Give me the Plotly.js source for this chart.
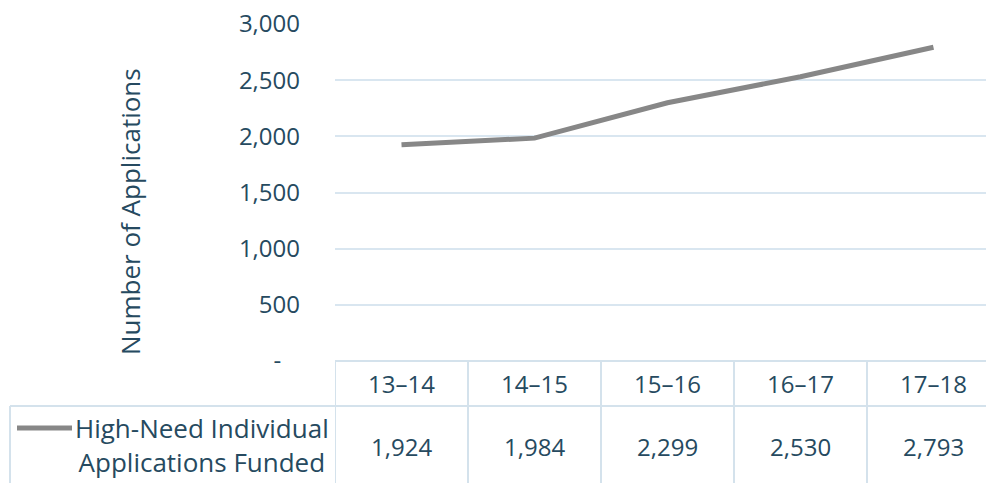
<!DOCTYPE html>
<html>
<head>
<meta charset="utf-8">
<script src="https://cdn.plot.ly/plotly-3.0.1.min.js"></script>
<style>html,body{margin:0;padding:0;background:#fff;}#chart{width:986px;height:483px;}</style>
</head>
<body>
<div id="chart"></div>
<script>
// ---- data ----
const categories = ['13–14', '14–15', '15–16', '16–17', '17–18'];
const seriesName = 'High-Need Individual<br>Applications Funded';
const applicationsFunded = [1924, 1984, 2299, 2530, 2793];
const yTickValues = [0, 500, 1000, 1500, 2000, 2500, 3000];
const yTickLabels = ['-\u00a0\u00a0\u00a0', '500', '1,000', '1,500', '2,000', '2,500', '3,000'];
const yTitle = 'Number of Applications';

// ---- styling ----
const textColor = '#264a60';
const gridColor = '#d9e6f0';
const tableColor = '#d4e2ec';
const lineColor = '#878787';
const fontFamily = '"Open Sans", "Noto Sans", sans-serif';

const W = 986, H = 483;
const mL = 335, mR = 0, mT = 24, mB = 122;
const plotW = W - mL - mR, plotH = H - mT - mB;
const px2x = p => (p - mL) / plotW;
const py2y = p => (H - mB - p) / plotH;

const fmt = v => v.toLocaleString('en-US');

const trace = {
  type: 'scatter',
  mode: 'lines',
  x: categories.map((c, i) => i),
  y: applicationsFunded,
  name: seriesName,
  line: {color: lineColor, width: 5},
  hoverinfo: 'skip'
};

const shapes = [];
const annotations = [];
const tableBottom = py2y(H + 5);
const rowSplit = py2y(406);

// table horizontal lines
shapes.push({type: 'line', xref: 'paper', yref: 'paper', x0: 0, x1: 1, y0: 0, y1: 0,
  line: {color: tableColor, width: 2}});
shapes.push({type: 'line', xref: 'paper', yref: 'paper', x0: px2x(10), x1: 1, y0: rowSplit, y1: rowSplit,
  line: {color: tableColor, width: 2}});
// left border of legend cell
shapes.push({type: 'line', xref: 'paper', yref: 'paper', x0: px2x(10), x1: px2x(10), y0: rowSplit, y1: tableBottom,
  line: {color: tableColor, width: 2}});
// column boundaries
for (let i = 0; i <= categories.length; i++) {
  shapes.push({type: 'line', xref: 'x', yref: 'paper', x0: i - 0.5, x1: i - 0.5, y0: 0, y1: tableBottom,
    line: {color: tableColor, width: 2}});
}
// legend key line
shapes.push({type: 'line', xref: 'paper', yref: 'paper', x0: px2x(17), x1: px2x(72), y0: py2y(428), y1: py2y(428),
  line: {color: lineColor, width: 5}});

// category headers and values
categories.forEach((c, i) => {
  annotations.push({xref: 'x', yref: 'paper', x: i, y: py2y(383), text: c, showarrow: false,
    xanchor: 'center', yanchor: 'middle', font: {size: 24, color: textColor, family: fontFamily}});
  annotations.push({xref: 'x', yref: 'paper', x: i, y: py2y(446), text: fmt(applicationsFunded[i]), showarrow: false,
    xanchor: 'center', yanchor: 'middle', font: {size: 24, color: textColor, family: fontFamily}});
});
// legend label
annotations.push({xref: 'paper', yref: 'paper', x: px2x(202), y: py2y(445), text: seriesName, showarrow: false,
  xanchor: 'center', yanchor: 'middle', align: 'center', font: {size: 26, color: textColor, family: fontFamily}});
// y axis title
annotations.push({xref: 'paper', yref: 'paper', x: px2x(130), y: py2y(212), text: yTitle, showarrow: false,
  textangle: -90, xanchor: 'center', yanchor: 'middle', font: {size: 26, color: textColor, family: fontFamily}});

const layout = {
  width: W, height: H,
  margin: {l: mL, r: mR, t: mT, b: mB, pad: 0},
  paper_bgcolor: '#ffffff', plot_bgcolor: '#ffffff',
  showlegend: false,
  font: {family: fontFamily, color: textColor, size: 24},
  xaxis: {
    type: 'linear',
    range: [-0.5, 4.5 - (1000 - W) / 133.3],
    showgrid: false, zeroline: false, showticklabels: false, ticks: '', showline: false,
    fixedrange: true
  },
  yaxis: {
    range: [0, 3000],
    tickmode: 'array', tickvals: yTickValues, ticktext: yTickLabels,
    showgrid: true, gridcolor: gridColor, gridwidth: 2,
    zeroline: false, showline: false, ticks: '',
    ticklabelstandoff: 34,
    tickfont: {size: 24, color: textColor, family: fontFamily},
    fixedrange: true
  },
  shapes: shapes,
  annotations: annotations
};

Plotly.newPlot('chart', [trace], layout, {displayModeBar: false, staticPlot: true});
</script>
</body>
</html>
